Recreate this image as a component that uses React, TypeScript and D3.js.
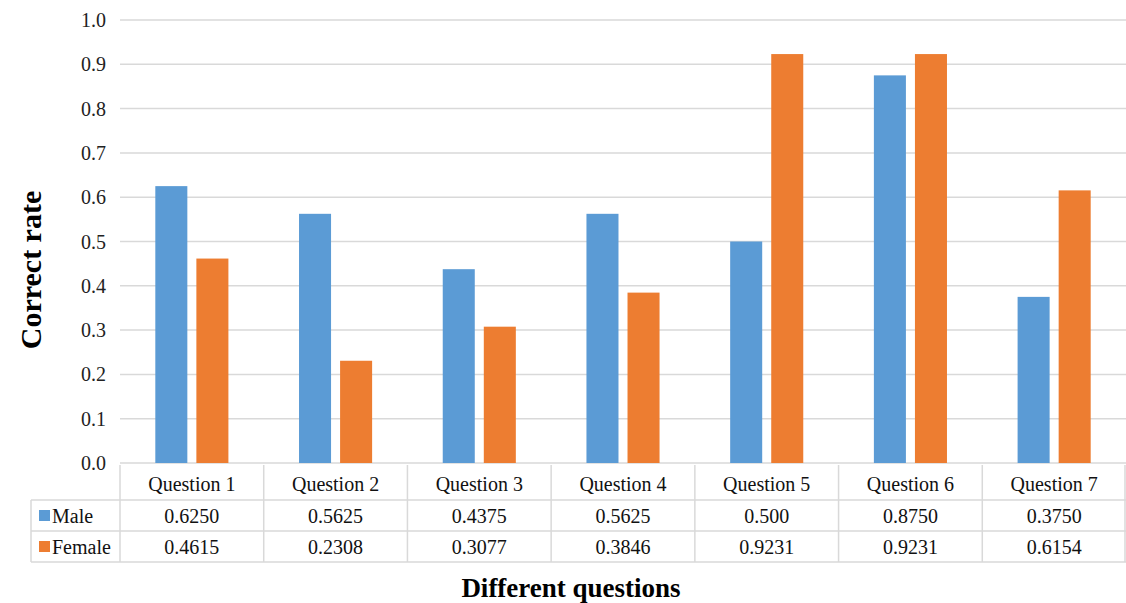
import React from "react";
import * as d3 from "d3";

const categories = ["Question 1", "Question 2", "Question 3", "Question 4", "Question 5", "Question 6", "Question 7"];
const seriesNames = ["Male", "Female"];
const maleValues = [0.625, 0.5625, 0.4375, 0.5625, 0.5, 0.875, 0.375];
const femaleValues = [0.4615, 0.2308, 0.3077, 0.3846, 0.9231, 0.9231, 0.6154];
const maleLabels = ["0.6250", "0.5625", "0.4375", "0.5625", "0.500", "0.8750", "0.3750"];
const femaleLabels = ["0.4615", "0.2308", "0.3077", "0.3846", "0.9231", "0.9231", "0.6154"];
const yTicks = [0, 0.1, 0.2, 0.3, 0.4, 0.5, 0.6, 0.7, 0.8, 0.9, 1.0];
const colors = ["#5b9bd5", "#ed7d31"];

const W = 1126;
const H = 603;
const left = 120;
const right = 1126;
const top = 20;
const bottom = 463;
const tableLeft = 31;
const headerBottom = 500;
const row1Bottom = 531;
const row2Bottom = 562;
const gridColor = "#d9d9d9";
const font = "'Liberation Serif', 'Times New Roman', serif";

export default function App() {
  const x = d3.scaleBand<string>().domain(categories).range([left, right]).paddingInner(0).paddingOuter(0);
  const x1 = d3.scaleBand<string>().domain(seriesNames).range([0, x.bandwidth()]).paddingInner(0.22).paddingOuter(0.86);
  const y = d3.scaleLinear().domain([0, 1]).range([bottom, top]);
  const series = [maleValues, femaleValues];
  const labels = [maleLabels, femaleLabels];
  const rowMid = [(headerBottom + row1Bottom) / 2, (row1Bottom + row2Bottom) / 2];

  return (
    <svg width={W} height={H} style={{ position: "absolute", left: 0, top: 0, background: "#fff" }} fontFamily={font}>
      <rect x={0} y={0} width={W} height={H} fill="#fff" />
      {yTicks.map((t) => (
        <g key={t}>
          <line x1={left} x2={right} y1={y(t)} y2={y(t)} stroke={gridColor} strokeWidth={1.5} />
          <text x={106} y={y(t)} dy="0.35em" textAnchor="end" fontSize={20} fill="#222">
            {d3.format(".1f")(t)}
          </text>
        </g>
      ))}
      {categories.map((c, i) => (
        <g key={c}>
          {series.map((vals, s) => (
            <rect
              key={s}
              x={(x(c) as number) + (x1(seriesNames[s]) as number)}
              y={y(vals[i])}
              width={x1.bandwidth()}
              height={y(0) - y(vals[i])}
              fill={colors[s]}
            />
          ))}
        </g>
      ))}
      {/* table */}
      <g stroke={gridColor} strokeWidth={1.5}>
        {categories.map((c) => (
          <line key={c} x1={x(c) as number} x2={x(c) as number} y1={bottom + 2} y2={row2Bottom} />
        ))}
        <line x1={right - 1} x2={right - 1} y1={bottom + 2} y2={row2Bottom} />
        <line x1={tableLeft} x2={tableLeft} y1={headerBottom} y2={row2Bottom} />
        <line x1={tableLeft} x2={right} y1={headerBottom} y2={headerBottom} />
        <line x1={tableLeft} x2={right} y1={row1Bottom} y2={row1Bottom} />
        <line x1={tableLeft} x2={right} y1={row2Bottom} y2={row2Bottom} />
      </g>
      {categories.map((c) => (
        <text key={c} x={(x(c) as number) + x.bandwidth() / 2} y={(bottom + headerBottom) / 2 + 2} dy="0.35em" textAnchor="middle" fontSize={20} fill="#111">
          {c}
        </text>
      ))}
      {seriesNames.map((name, s) => (
        <g key={name}>
          <rect x={39} y={rowMid[s] - 5.5} width={11} height={11} fill={colors[s]} />
          <text x={52} y={rowMid[s]} dy="0.35em" fontSize={20} fill="#111">
            {name}
          </text>
          {categories.map((c, i) => (
            <text key={c} x={(x(c) as number) + x.bandwidth() / 2} y={rowMid[s]} dy="0.35em" textAnchor="middle" fontSize={20} fill="#111">
              {labels[s][i]}
            </text>
          ))}
        </g>
      ))}
      <text transform="translate(41,270) rotate(-90)" textAnchor="middle" fontSize={30} fontWeight="bold" fill="#000">
        Correct rate
      </text>
      <text x={571} y={597} textAnchor="middle" fontSize={27} fontWeight="bold" fill="#000">
        Different questions
      </text>
    </svg>
  );
}
